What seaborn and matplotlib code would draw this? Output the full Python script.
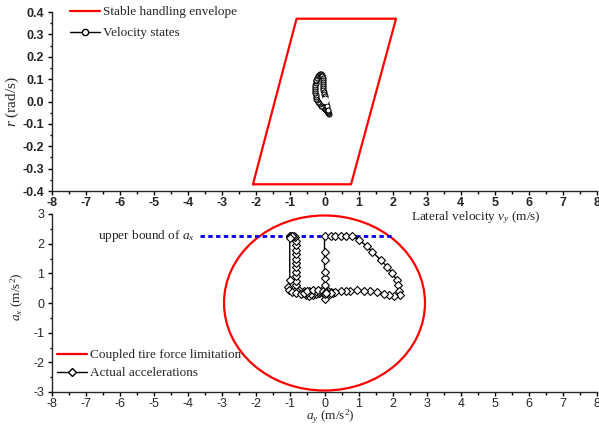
import numpy as np
import pandas as pd
import matplotlib
matplotlib.use("Agg")
import matplotlib.pyplot as plt
import seaborn as sns
from matplotlib.patches import Ellipse
from matplotlib.lines import Line2D
from matplotlib.ticker import MultipleLocator, FormatStrFormatter

# ---------------- data ----------------
env_vy = [-2.1, 0.78, 2.1, -0.82, -2.1]
env_r = [-0.37, -0.37, 0.37, 0.37, -0.37]

vel_vy = [0.13, 0.11, 0.09, 0.07, 0.05, 0.03, 0.01, -0.02, -0.05, -0.08, -0.11, -0.14,
          -0.17, -0.2, -0.22, -0.24, -0.25, -0.26, -0.27, -0.27, -0.27, -0.27, -0.27,
          -0.26, -0.25, -0.24, -0.22, -0.2, -0.17, -0.14, -0.11, -0.08, -0.06, -0.05,
          -0.04, -0.04, -0.04, -0.04, -0.03, -0.03, -0.02, -0.01, 0.0, 0.02, 0.05, 0.08, 0.1]
vel_r = [-0.055, -0.05, -0.047, -0.043, -0.04, -0.037, -0.034, -0.03, -0.026, -0.022, -0.018, -0.013,
         -0.007, 0.0, 0.006, 0.013, 0.02, 0.028, 0.036, 0.045, 0.054, 0.063, 0.072,
         0.081, 0.09, 0.098, 0.106, 0.113, 0.119, 0.123, 0.124, 0.12, 0.113, 0.105,
         0.097, 0.088, 0.079, 0.07, 0.061, 0.052, 0.043, 0.034, 0.025, 0.015, 0.0, -0.02, -0.04]
vel_end_vy = [0.01]
vel_end_r = [0.005]

acc_radius = 2.95
bound_ay = [-3.65, 2.0]
bound_ax = [2.25, 2.25]

acc_ay = [0.0, -0.15, -0.3, -0.45, -0.6, -0.75, -0.85,
          -0.85, -0.85, -0.85, -0.85, -0.85, -0.85, -0.85, -0.85, -0.85, -0.85, -0.85, -0.87,
          -0.9, -0.95, -1.0, -1.02, -1.0, -0.95,
          -1.02, -1.02, -1.08, -1.05, -0.95, -0.85,
          -0.7, -0.55, -0.45, -0.35, -0.25, -0.15, -0.05, 0.05, 0.15, 0.25, 0.2, 0.1, 0.0,
          -0.1, -0.2, -0.3, -0.4, -0.5, -0.6, -0.5, -0.35, -0.2, -0.05, 0.05, 0.0, 0.0, 0.0,
          0.0, 0.0, 0.0, 0.0, 0.0, 0.0,
          0.18, 0.32, 0.47, 0.62, 0.81,
          1.01, 1.25, 1.40, 1.65, 1.84, 1.99, 2.12, 2.16, 2.19, 2.21,
          2.04, 1.89, 1.74, 1.55, 1.35, 1.16, 0.96, 0.76, 0.62, 0.47, 0.32, 0.18, 0.05]
acc_ax = [0.3, 0.33, 0.36, 0.4, 0.42, 0.44, 0.45,
          0.6, 0.75, 0.9, 1.05, 1.2, 1.35, 1.5, 1.65, 1.8, 1.95, 2.1, 2.22,
          2.25, 2.26, 2.26, 2.25, 2.24, 2.25,
          2.2, 0.78, 0.55, 0.44, 0.38, 0.33,
          0.3, 0.28, 0.25, 0.27, 0.3, 0.33, 0.35, 0.33, 0.3, 0.33, 0.38, 0.4, 0.42,
          0.4, 0.38, 0.33, 0.3, 0.33, 0.35, 0.4, 0.43, 0.45, 0.42, 0.38, 0.3, 0.12, 0.3,
          0.61, 0.83, 1.06, 1.45, 1.71, 2.27,
          2.27, 2.27, 2.27, 2.27, 2.27,
          2.12, 1.92, 1.73, 1.45, 1.22, 1.0, 0.78, 0.61, 0.40, 0.27,
          0.24, 0.27, 0.30, 0.38, 0.40, 0.41, 0.44, 0.41, 0.41, 0.41, 0.38, 0.35, 0.33]

x_ticks = list(range(-8, 9))
r_ticks = [-0.4, -0.3, -0.2, -0.1, 0.0, 0.1, 0.2, 0.3, 0.4]
ax_ticks = [-3, -2, -1, 0, 1, 2, 3]

# ---------------- style ----------------
sns.set_theme(style="ticks")
plt.rcParams["font.family"] = ["Liberation Sans", "DejaVu Sans"]
plt.rcParams["mathtext.fontset"] = "custom"
plt.rcParams["mathtext.rm"] = "Liberation Serif"
plt.rcParams["mathtext.it"] = "Liberation Serif:italic"
plt.rcParams["axes.linewidth"] = 1.0
plt.rcParams["axes.unicode_minus"] = False
SERIF = ["Liberation Serif", "DejaVu Serif"]
FS = 9.5

fig = plt.figure(figsize=(5.99, 4.25), dpi=100)
ax1 = fig.add_axes([52 / 599, 1 - 191 / 425, 545 / 599, 179 / 425])
ax2 = fig.add_axes([52 / 599, 1 - 392 / 425, 545 / 599, 178 / 425])

# ---- top panel ----
sns.lineplot(x=env_vy, y=env_r, sort=False, estimator=None, color="red", lw=1.6, ax=ax1)
sns.lineplot(x=vel_vy, y=vel_r, sort=False, estimator=None, color="black", lw=1.0,
             marker="o", markersize=3.6, markerfacecolor="white", markeredgecolor="black",
             markeredgewidth=0.8, ax=ax1)
sns.lineplot(x=vel_end_vy, y=vel_end_r, estimator=None, lw=0, marker="o", markersize=4.5,
             markerfacecolor="white", markeredgecolor="white", ax=ax1)

ax1.set_xlim(-8, 8)
ax1.set_ylim(-0.4, 0.4)
ax1.set_xticks(x_ticks)
ax1.set_yticks(r_ticks)
ax1.yaxis.set_major_formatter(FormatStrFormatter("%.1f"))
ax1.xaxis.set_minor_locator(MultipleLocator(0.5))
ax1.yaxis.set_minor_locator(MultipleLocator(0.05))
ax1.tick_params(which="major", length=3, width=1, labelsize=9, pad=2.5, color="black")
ax1.tick_params(axis="x", which="major", pad=1.5)
ax1.tick_params(which="minor", length=1.8, width=1, color="black")
for lab in ax1.get_xticklabels() + ax1.get_yticklabels():
    lab.set_fontweight("bold")
sns.despine(ax=ax1)
ax1.set_xlabel("")
ax1.set_ylabel(r"$r$ (rad/s)", fontfamily=SERIF, fontsize=11)
ax1.yaxis.label.set_verticalalignment("center")
ax1.yaxis.set_label_coords((12 - 52) / 545, 0.5)
fig.text(476 / 599, 1 - 218 / 425, r"Lateral velocity $v_y$ (m/s)", fontfamily=SERIF,
         fontsize=FS, ha="center", va="center")

h1 = [Line2D([], [], color="red", lw=1.6),
      Line2D([], [], color="black", lw=1.0, marker="o", markersize=4.5,
             markerfacecolor="white", markeredgecolor="black")]
ax1.legend(h1, ["Stable handling envelope", "Velocity states"],
           prop={"family": SERIF, "size": FS}, frameon=False,
           loc="upper left", bbox_to_anchor=(70 / 599, 1 - 6 / 425),
           bbox_transform=fig.transFigure, borderpad=0, borderaxespad=0,
           handlelength=2.27, handletextpad=0.23, labelspacing=0.67)

# ---- bottom panel ----
ax2.add_patch(Ellipse((0, 0), 2 * acc_radius, 2 * acc_radius, fill=False,
                      edgecolor="red", lw=1.6))
sns.lineplot(x=bound_ay, y=bound_ax, estimator=None, color="#0000ee", lw=2.0, ax=ax2,
             linestyle=(0, (1.6, 1.2)))
sns.lineplot(x=acc_ay, y=acc_ax, sort=False, estimator=None, color="black", lw=1.0,
             marker="D", markersize=4.2, markerfacecolor="white", markeredgecolor="black",
             markeredgewidth=0.8, ax=ax2)
ax2.text(-3.8, 2.25, r"upper bound of $a_x$", fontfamily=SERIF, fontsize=FS,
         ha="right", va="center")

ax2.set_xlim(-8, 8)
ax2.set_ylim(-3, 3)
ax2.set_xticks(x_ticks)
ax2.set_yticks(ax_ticks)
ax2.xaxis.set_minor_locator(MultipleLocator(0.5))
ax2.yaxis.set_minor_locator(MultipleLocator(0.5))
ax2.tick_params(which="major", length=3, width=1, labelsize=9, pad=2.5, color="black")
ax2.tick_params(axis="x", which="major", pad=1.2)
ax2.tick_params(which="minor", length=1.8, width=1, color="black")
sns.despine(ax=ax2)
ax2.set_xlabel(r"$a_y$ (m/s$^2$)", fontfamily=SERIF, fontsize=FS)
ax2.xaxis.label.set_verticalalignment("center")
ax2.xaxis.set_label_coords((330 - 52) / 545, (392 - 416.5) / 178)
ax2.set_ylabel(r"$a_x$ (m/s$^2$)", fontfamily=SERIF, fontsize=FS)
ax2.yaxis.label.set_verticalalignment("center")
ax2.yaxis.set_label_coords((17 - 52) / 545, (392 - 297) / 178)

h2 = [Line2D([], [], color="red", lw=1.6),
      Line2D([], [], color="black", lw=1.0, marker="D", markersize=4.5,
             markerfacecolor="white", markeredgecolor="black")]
ax2.legend(h2, ["Coupled tire force limitation", "Actual accelerations"],
           prop={"family": SERIF, "size": FS}, frameon=False,
           loc="upper left", bbox_to_anchor=(57 / 599, 1 - 349 / 425),
           bbox_transform=fig.transFigure, borderpad=0, borderaxespad=0,
           handlelength=2.27, handletextpad=0.23, labelspacing=0.44)

fig.savefig("out.png", dpi=100)
